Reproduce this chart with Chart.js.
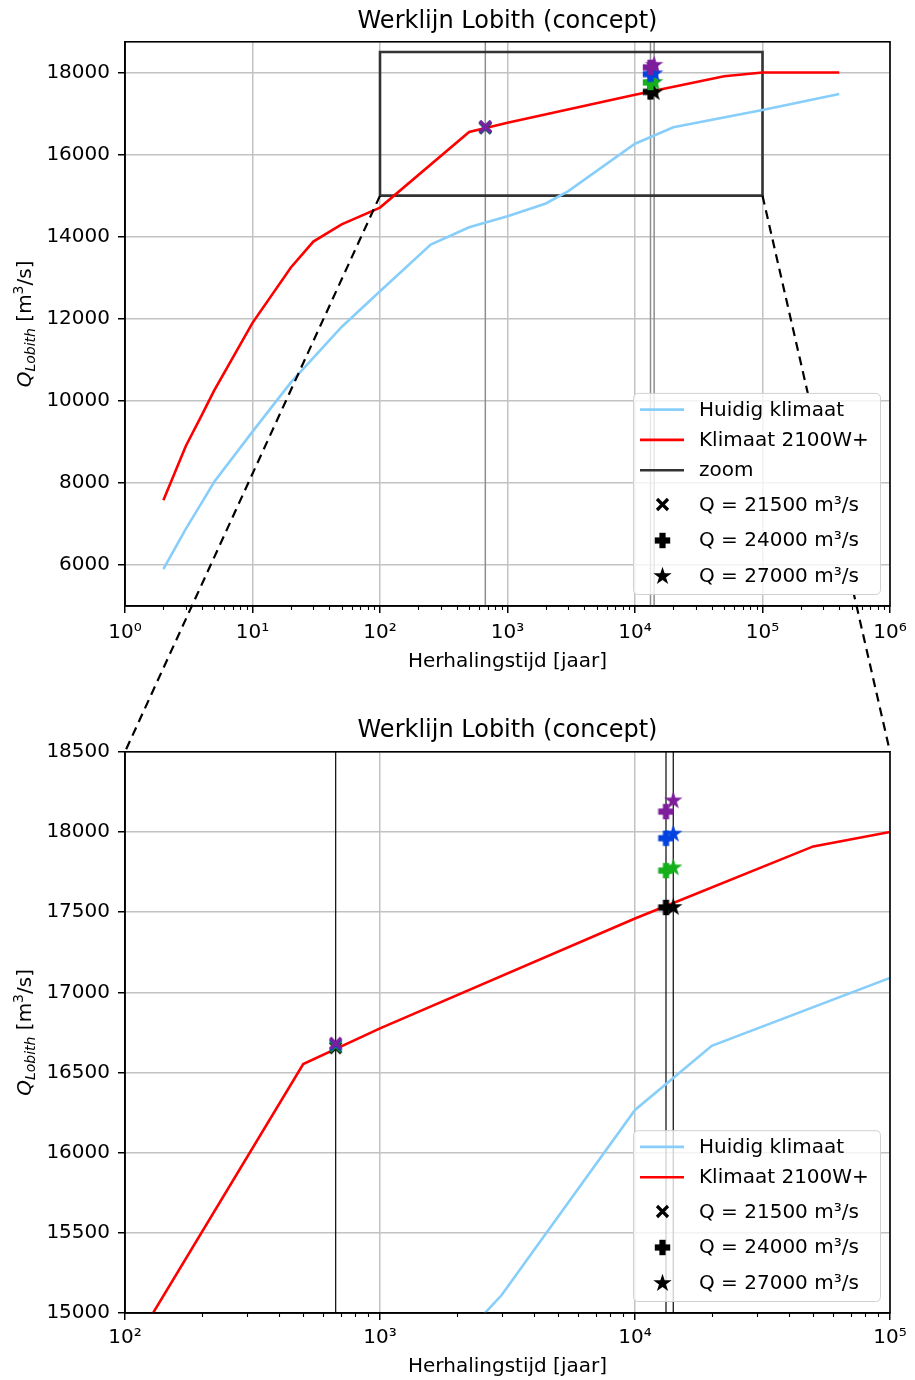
<!DOCTYPE html>
<html><head><meta charset="utf-8">
<script src="https://cdn.jsdelivr.net/npm/chart.js@4.4.1/dist/chart.umd.min.js"></script>
<style>
html,body{margin:0;padding:0;background:#fff;}
#wrap{position:relative;width:915px;height:1380px;background:#fff;}
.box{position:absolute;left:0;width:915px;height:690px;}
</style></head><body>
<div id="wrap">
<div class="box" style="top:0"><canvas id="c1"></canvas></div>
<div class="box" style="top:690px"><canvas id="c2"></canvas></div>
</div>
<script>
// ---------------- data ----------------
const titleText = 'Werklijn Lobith (concept)';
const xAxisLabel = 'Herhalingstijd [jaar]';
const seriesLabels = ['Huidig klimaat', 'Klimaat 2100W+', 'zoom'];
const markerLabels = ['Q = 21500 m\u00B3/s', 'Q = 24000 m\u00B3/s', 'Q = 27000 m\u00B3/s'];

const huidigT = [2, 3, 4, 5, 10, 20, 50, 100, 250, 500, 1000, 2000, 3000, 10000, 20000, 100000, 400000];
const huidigQ = [5900, 6880, 7520, 8020, 9250, 10450, 11800, 12670, 13810, 14230, 14500, 14810, 15112, 16266, 16666, 17090, 17480];

const klimaatT = [2, 3, 4, 5, 10, 20, 30, 50, 100, 500, 1000, 10000, 50000, 100000, 400000];
const klimaatQ = [7580, 8900, 9650, 10250, 11900, 13250, 13880, 14300, 14710, 16553, 16775, 17460, 17910, 18000, 18000];

const zoomT = [100, 100000, 100000, 100, 100];
const zoomQ = [15000, 15000, 18500, 18500, 15000];

// scenario colours: black, green, blue, purple
const markerColors = ['#000000', '#15b01a', '#0343df', '#7e1e9c'];
const xMarkT = 670;   const xMarkQ = [16655, 16665, 16673, 16682];
const plusT = 13230;  const plusQ = [17529, 17759, 17961, 18127];
const starT = 14130;  const starQ = [17535, 17782, 17993, 18200];

const topXRange = [1, 1000000];
const topYRange = [5000, 18750];
const topYTicks = [6000, 8000, 10000, 12000, 14000, 16000, 18000];
const topXTickLabels = ['10\u2070', '10\u00B9', '10\u00B2', '10\u00B3', '10\u2074', '10\u2075', '10\u2076'];

const botXRange = [100, 100000];
const botYRange = [15000, 18500];
const botYTicks = [15000, 15500, 16000, 16500, 17000, 17500, 18000, 18500];
const botXTickLabels = ['10\u00B2', '10\u00B3', '10\u2074', '10\u2075'];

// ---------------- styling helpers ----------------
const FONT = "'DejaVu Sans', sans-serif";
const GRID = '#c2c2c2';
const C_HUIDIG = '#87cefa';
const C_KLIMAAT = '#ff0000';
const C_ZOOM = '#333333';

function imgX(color){ const s=15, c=document.createElement('canvas'); c.width=c.height=s; const g=c.getContext('2d');
  g.strokeStyle=color; g.lineWidth=3.2; const p=2; g.beginPath(); g.moveTo(p,p); g.lineTo(s-p,s-p); g.moveTo(s-p,p); g.lineTo(p,s-p); g.stroke(); return c; }
function imgPlus(color){ const s=17, c=document.createElement('canvas'); c.width=c.height=s; const g=c.getContext('2d');
  const t=6.2, m=0.8; g.fillStyle=color; g.fillRect((s-t)/2,m,t,s-2*m); g.fillRect(m,(s-t)/2,s-2*m,t); return c; }
function imgStar(color){ const s=21, c=document.createElement('canvas'); c.width=c.height=s; const g=c.getContext('2d');
  const R=9.6, r=R*0.382, cx=s/2, cy=s/2+0.8; g.fillStyle=color; g.beginPath();
  for(let i=0;i<10;i++){ const a=-Math.PI/2 + i*Math.PI/5; const rr = i%2===0?R:r; const px=cx+rr*Math.cos(a), py=cy+rr*Math.sin(a); if(i===0) g.moveTo(px,py); else g.lineTo(px,py);} g.closePath(); g.fill(); return c; }

const X_IMG = markerColors.map(imgX), P_IMG = markerColors.map(imgPlus), S_IMG = markerColors.map(imgStar);

const isMajor = v => Math.abs(Math.log10(v) - Math.round(Math.log10(v))) < 1e-9;
function logTicks(min, max){ const arr=[]; const e0=Math.round(Math.log10(min)), e1=Math.round(Math.log10(max));
  for(let e=e0;e<=e1;e++){ for(let d=1; d<=9; d++){ const v=d*Math.pow(10,e); if(v>=min*0.9999 && v<=max*1.0001) arr.push({value:v}); } } return arr; }

let connectors = null;

function legendLayout(chart, rows){
  const a = chart.chartArea;
  const ys=[]; let y=16.7;
  rows.forEach((r,i)=>{ if(i>0){ const prev=rows[i-1].type; y += (prev==='line' && r.type==='line') ? 30.3 : (prev==='line' ? 34.3 : 35.5); } ys.push(y); });
  const h = ys[ys.length-1] + 18.5, w = 247;
  const x = a.right - 10 - w, top = a.bottom - 12 - h;
  return {x, y: top, w, h, ys: ys.map(v=>v+top)};
}

function roundRect(ctx, x, y, w, h, r){ ctx.beginPath(); ctx.moveTo(x+r,y); ctx.lineTo(x+w-r,y); ctx.quadraticCurveTo(x+w,y,x+w,y+r); ctx.lineTo(x+w,y+h-r); ctx.quadraticCurveTo(x+w,y+h,x+w-r,y+h); ctx.lineTo(x+r,y+h); ctx.quadraticCurveTo(x,y+h,x,y+h-r); ctx.lineTo(x,y+r); ctx.quadraticCurveTo(x,y,x+r,y); ctx.closePath(); }

const deco = {
  id: 'deco',
  afterDatasetsDraw(chart, args, opts){
    const ctx = chart.ctx, a = chart.chartArea;
    // frame (spines)
    ctx.save(); ctx.strokeStyle='#000'; ctx.lineWidth=1.6; ctx.strokeRect(a.left, a.top, a.right-a.left, a.bottom-a.top); ctx.restore();
    // minor x ticks
    const xs = chart.scales.x; ctx.save(); ctx.strokeStyle='#000'; ctx.lineWidth=1.1;
    xs.ticks.forEach(t=>{ if(!isMajor(t.value)){ const px=Math.round(xs.getPixelForValue(t.value))+0.5; ctx.beginPath(); ctx.moveTo(px,a.bottom); ctx.lineTo(px,a.bottom+4); ctx.stroke(); } });
    ctx.restore();
    // legend geometry
    const L = legendLayout(chart, opts.rows);
    // connectors (figure-level dashed lines), hidden under legend
    if (connectors){
      ctx.save(); ctx.beginPath(); ctx.rect(0,0,chart.width,chart.height); ctx.rect(L.x, L.y, L.w, L.h); ctx.clip('evenodd');
      ctx.strokeStyle='#000'; ctx.lineWidth=2.2; ctx.setLineDash([9,6]);
      connectors.forEach(c=>{ ctx.beginPath(); ctx.moveTo(c[0], c[1]-opts.offsetY); ctx.lineTo(c[2], c[3]-opts.offsetY); ctx.stroke(); });
      ctx.restore();
    }
    // legend
    ctx.save();
    roundRect(ctx, L.x+0.5, L.y+0.5, L.w, L.h, 5); ctx.fillStyle='rgba(255,255,255,0.8)'; ctx.fill(); ctx.strokeStyle='#d0d0d0'; ctx.lineWidth=1; ctx.stroke();
    opts.rows.forEach((r,i)=>{
      const y = L.ys[i];
      if (r.type==='line'){ ctx.strokeStyle=r.color; ctx.lineWidth=2.6; ctx.beginPath(); ctx.moveTo(L.x+7,y); ctx.lineTo(L.x+51,y); ctx.stroke(); }
      else { const im=r.img; ctx.drawImage(im, Math.round(L.x+29-im.width/2), Math.round(y-im.height/2)); }
      ctx.fillStyle='#000'; ctx.font='20px '+FONT; ctx.textBaseline='middle'; ctx.textAlign='left';
      ctx.fillText(r.text, L.x+66, y+1);
    });
    ctx.restore();
    // y axis title with subscript/superscript
    ctx.save();
    ctx.translate(opts.yTitleX, (a.top+a.bottom)/2); ctx.rotate(-Math.PI/2);
    const parts = [
      {t:'Q', f:'italic 20px '+FONT, dy:0},
      {t:'Lobith', f:'italic 14px '+FONT, dy:4},
      {t:' [m', f:'20px '+FONT, dy:0},
      {t:'3', f:'14px '+FONT, dy:-8},
      {t:'/s]', f:'20px '+FONT, dy:0}
    ];
    let tw=0; parts.forEach(p=>{ ctx.font=p.f; p.w=ctx.measureText(p.t).width; tw+=p.w; });
    let xx=-tw/2; ctx.fillStyle='#000'; ctx.textBaseline='alphabetic'; ctx.textAlign='left';
    parts.forEach(p=>{ ctx.font=p.f; ctx.fillText(p.t, xx, 8+p.dy); xx+=p.w; });
    ctx.restore();
  }
};

function pts(T, Q){ return T.map((t,i)=>({x:t, y:Q[i]})); }

function makeChart(id, c){
  const ds = [];
  ds.push({label:markerLabels[0], data: xMarkQ.map(q=>({x:xMarkT,y:q})), showLine:false, pointStyle:X_IMG, pointRadius:8, order:0});
  ds.push({label:markerLabels[1], data: plusQ.map(q=>({x:plusT,y:q})), showLine:false, pointStyle:P_IMG, pointRadius:8, order:1});
  ds.push({label:markerLabels[2], data: starQ.map(q=>({x:starT,y:q})), showLine:false, pointStyle:S_IMG, pointRadius:8, order:2});
  ds.push({label:seriesLabels[1], data: pts(klimaatT, klimaatQ), showLine:true, borderColor:C_KLIMAAT, borderWidth:2.6, pointRadius:0, order:3});
  ds.push({label:seriesLabels[0], data: pts(huidigT, huidigQ), showLine:true, borderColor:C_HUIDIG, borderWidth:2.6, pointRadius:0, order:4});
  if (c.showZoom) ds.push({label:seriesLabels[2], data: pts(zoomT, zoomQ), showLine:true, borderColor:C_ZOOM, borderWidth:2.6, pointRadius:0, order:5});
  [xMarkT, plusT, starT].forEach(T=> ds.push({label:'v', data:[{x:T,y:c.yRange[0]},{x:T,y:c.yRange[1]}], showLine:true, borderColor:c.vColor, borderWidth:c.vWidth, pointRadius:0, order:6}));

  const rows = [
    {type:'line', color:C_HUIDIG, text:seriesLabels[0]},
    {type:'line', color:C_KLIMAAT, text:seriesLabels[1]}
  ];
  if (c.showZoom) rows.push({type:'line', color:C_ZOOM, text:seriesLabels[2]});
  rows.push({type:'marker', img:X_IMG[0], text:markerLabels[0]});
  rows.push({type:'marker', img:P_IMG[0], text:markerLabels[1]});
  rows.push({type:'marker', img:S_IMG[0], text:markerLabels[2]});

  const e0 = Math.round(Math.log10(c.xRange[0]));
  return new Chart(document.getElementById(id), {
    type: 'scatter',
    data: { datasets: ds },
    options: {
      responsive: true, maintainAspectRatio: false, animation: false, devicePixelRatio: 1,
      layout: { padding: { left: 0, right: 25, top: 0, bottom: 0 } },
      events: [],
      plugins: {
        legend: { display: false },
        tooltip: { enabled: false },
        title: { display: true, text: titleText, fullSize: false, color: '#000', font: { family: FONT, size: 24, weight: 'normal' }, padding: c.titlePad },
        deco: { rows, offsetY: c.offsetY, yTitleX: 23 }
      },
      scales: {
        x: {
          type: 'logarithmic', position: 'bottom', min: c.xRange[0], max: c.xRange[1],
          afterBuildTicks: s => { s.ticks = logTicks(c.xRange[0], c.xRange[1]); },
          afterFit: s => { s.height = c.xAxisH; },
          ticks: { autoSkip: false, maxRotation: 0, minRotation: 0, padding: c.xTickPad, color: '#000', font: { family: FONT, size: 20 },
            callback: v => isMajor(v) ? c.xLabels[Math.round(Math.log10(v)) - e0] : '' },
          grid: { color: g => (g.tick && isMajor(g.tick.value)) ? GRID : 'rgba(0,0,0,0)', lineWidth: 1.5, tickLength: 7,
            tickColor: g => (g.tick && isMajor(g.tick.value)) ? '#000' : 'rgba(0,0,0,0)', tickWidth: 1.5 },
          border: { display: true, color: '#000', width: 1.6 },
          title: { display: true, text: xAxisLabel, color: '#000', font: { family: FONT, size: 20 }, padding: { top: 0, bottom: c.xTitlePad } }
        },
        y: {
          type: 'linear', min: c.yRange[0], max: c.yRange[1],
          afterBuildTicks: s => { s.ticks = c.yTicks.map(v => ({ value: v })); },
          afterFit: s => { s.width = 125; },
          ticks: { padding: 8, color: '#000', font: { family: FONT, size: 20 }, callback: v => String(v) },
          grid: { color: GRID, lineWidth: 1.5, tickLength: 7, tickColor: '#000', tickWidth: 1.5 },
          border: { display: true, color: '#000', width: 1.6 }
        }
      }
    },
    plugins: [deco]
  });
}

const chartTop = makeChart('c1', {
  xRange: topXRange, yRange: topYRange, yTicks: topYTicks, xLabels: topXTickLabels, showZoom: true,
  vColor: '#8e8e8e', vWidth: 1.5, titlePad: { top: 7, bottom: 6 }, xAxisH: 84, xTickPad: 8, xTitlePad: 16, offsetY: 0
});
const chartBot = makeChart('c2', {
  xRange: botXRange, yRange: botYRange, yTicks: botYTicks, xLabels: botXTickLabels, showZoom: false,
  vColor: '#1a1a1a', vWidth: 1.3, titlePad: { top: 26, bottom: 7 }, xAxisH: 67, xTickPad: 6, xTitlePad: 1, offsetY: 690
});

(function(){
  const xs = chartTop.scales.x, ys = chartTop.scales.y, b = chartBot.chartArea;
  const off = 690;
  connectors = [
    [xs.getPixelForValue(zoomT[0]), ys.getPixelForValue(zoomQ[0]), b.left, b.top + off],
    [xs.getPixelForValue(zoomT[1]), ys.getPixelForValue(zoomQ[1]), b.right, b.top + off]
  ];
  chartTop.draw(); chartBot.draw();
})();
</script>
</body></html>
